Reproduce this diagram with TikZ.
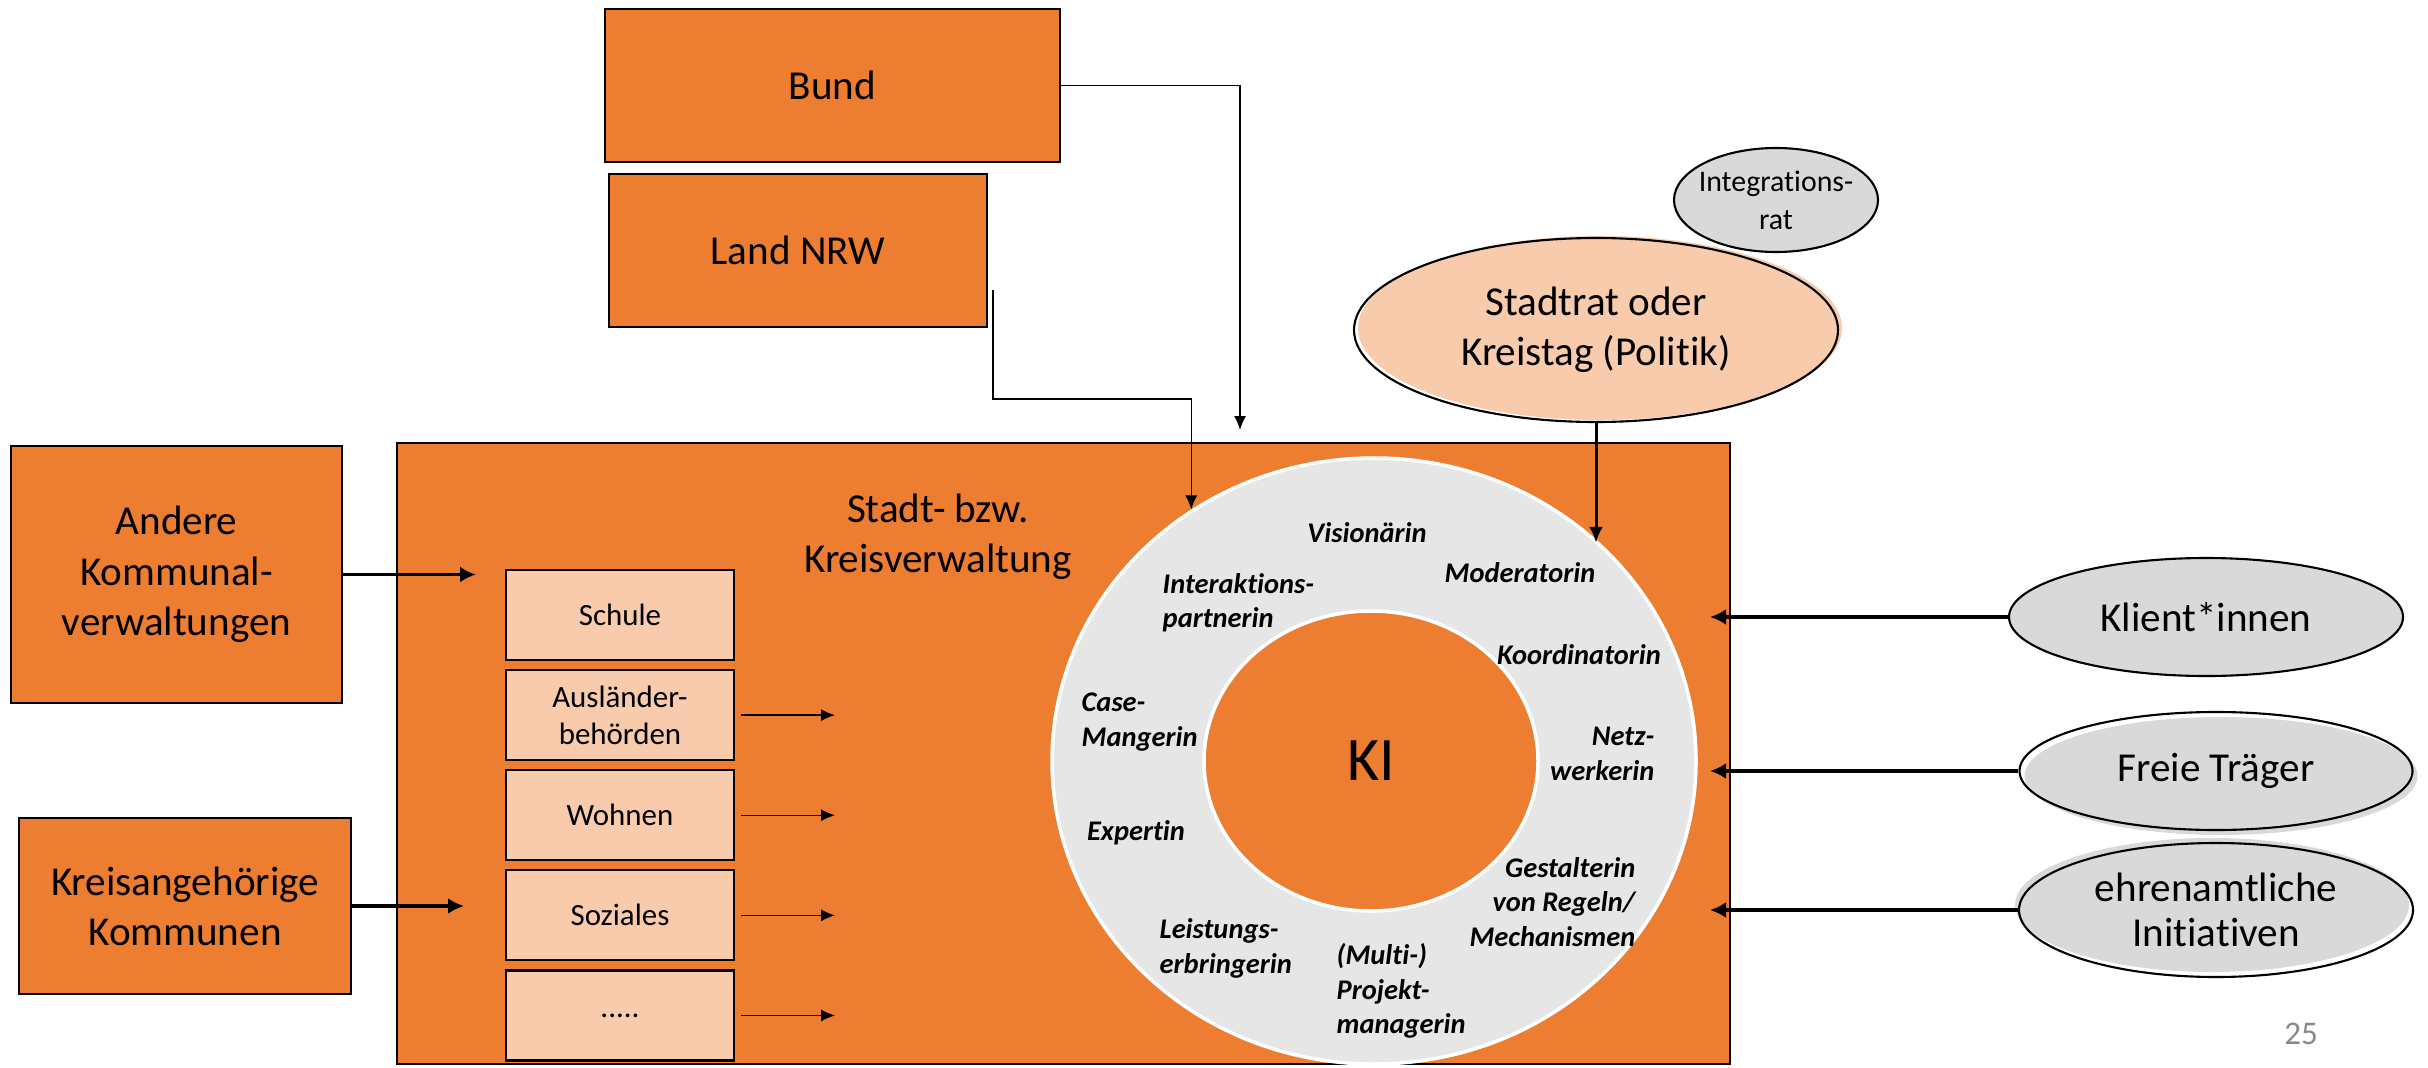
\documentclass[tikz,border=0pt]{standalone}
\usepackage{fontspec}
\setmainfont{Carlito}[Ligatures=NoCommon]
\usepackage{tikz}
\usetikzlibrary{arrows.meta,positioning,shapes.geometric}
\definecolor{kommorange}{RGB}{237,125,49}
\definecolor{kommlight}{RGB}{248,203,173}
\definecolor{ringgray}{RGB}{230,230,230}
\definecolor{actorgray}{RGB}{217,217,217}
\definecolor{pagegray}{RGB}{137,137,137}

\tikzset{
  orangebox/.style={draw=black, line width=0.6pt, fill=kommorange, align=center, font=\fontsize{11.7}{14.3}\selectfont},
  subbox/.style={draw=black, line width=0.6pt, fill=kommlight, minimum width=2.28cm, minimum height=0.9cm, align=center, font=\fontsize{8.8}{10.5}\selectfont},
  actor/.style={ellipse, draw=black, line width=0.6pt, fill=actorgray, inner sep=0pt, align=center, font=\fontsize{11.7}{14.3}\selectfont},
  shiftfill/.style 2 args={fill=none, preaction={fill=#1, transform canvas={shift={#2}}}},
  rolelabel/.style={inner sep=0pt, font=\fontsize{8.1}{9.8}\selectfont\bfseries\itshape},
  thinarrow/.style={-{Latex[length=1.4mm,width=1.2mm]}, line width=0.4pt},
  midarrow/.style={-{Latex[length=1.6mm,width=1.4mm]}, line width=0.85pt},
  thickarrow/.style={-{Latex[length=1.6mm,width=1.6mm]}, line width=1.1pt},
}

\begin{document}
\begin{tikzpicture}
    \useasboundingbox (0,0) rectangle (24.28,10.67);

    % Bund und Land
    \node[orangebox, minimum width=4.55cm, minimum height=1.53cm] (bund) at (8.325,9.815) {Bund};
    \node[orangebox, minimum width=3.78cm, minimum height=1.53cm] (land) at (7.98,8.165) {Land NRW};

    % Verwaltung
    \node[orangebox, minimum width=13.33cm, minimum height=6.21cm] (verwaltung) at (10.635,3.135) {};
    \node[align=center, font=\fontsize{11.7}{14.3}\selectfont] (vtitel) at (9.38,5.30) {Stadt- bzw.\\Kreisverwaltung};

    % Nachbarn links
    \node[orangebox, minimum width=3.31cm, minimum height=2.57cm] (andere) at (1.765,4.925) {Andere\\Kommunal-\\verwaltungen};
    \node[orangebox, minimum width=3.32cm, minimum height=1.76cm] (kreis) at (1.85,1.61) {Kreisangehörige\\Kommunen};

    % Fachbereiche
    \node[subbox] (schule) at (6.20,4.52) {Schule};
    \foreach \name/\txt [remember=\name as \prev (initially schule)] in {auslaender/{Ausländer-\\behörden}, wohnen/Wohnen, soziales/Soziales, weitere/{.....}}
        \node[subbox, below=0.08cm of \prev] (\name) {\txt};

    % Rollenring
    \node[ellipse, fill=ringgray, draw=white, line width=1pt, minimum width=6.44cm, minimum height=6.06cm] (ring) at (13.74,3.06) {};
    \node[ellipse, fill=kommorange, draw=white, line width=1pt, minimum width=3.34cm, minimum height=3.00cm, font=\fontsize{17.6}{20}\selectfont] (ki) at (13.71,3.06) {KI};

    \node[rolelabel] (vision) at (13.67,5.34) {Visionärin};
    \node[rolelabel] (moderat) at (15.20,4.94) {Moderatorin};
    \node[rolelabel, anchor=west, align=left] (interakt) at (11.62,4.64) {Interaktions-\\partnerin};
    \node[rolelabel] (koord) at (15.79,4.12) {Koordinatorin};
    \node[rolelabel, anchor=west, align=left] (casem) at (10.81,3.45) {Case-\\Mangerin};
    \node[rolelabel, anchor=east, align=right] (netzw) at (16.55,3.13) {Netz-\\werkerin};
    \node[rolelabel] (expert) at (11.36,2.34) {Expertin};
    \node[rolelabel, anchor=east, align=right] (gestalt) at (16.36,1.65) {Gestalterin\\von Regeln/\\Mechanismen};
    \node[rolelabel, anchor=west, align=left] (leist) at (11.59,1.185) {Leistungs-\\erbringerin};
    \node[rolelabel, anchor=west, align=left] (projekt) at (13.36,0.76) {(Multi-)\\Projekt-\\managerin};

    % Politik
    \node[actor, minimum width=2.04cm, minimum height=1.04cm] (integ) at (17.76,8.67) {};
    \node[align=center, font=\fontsize{8.5}{10.8}\selectfont] (integtext) at (integ) {Integrations-\\rat};
    \node[actor, shiftfill={kommlight}{(0.04,0.02)}, minimum width=4.84cm, minimum height=1.84cm] (stadtrat) at (15.96,7.37) {Stadtrat oder\\Kreistag (Politik)};

    % Akteure rechts
    \node[actor, minimum width=3.94cm, minimum height=1.18cm] (klient) at (22.06,4.50) {Klient*innen};
    \node[actor, shiftfill={actorgray}{(0.05,-0.05)}, minimum width=3.93cm, minimum height=1.18cm] (freie) at (22.16,2.96) {Freie Träger};
    \node[actor, shiftfill={actorgray}{(-0.04,0.05)}, minimum width=3.94cm, minimum height=1.34cm, font=\fontsize{11.7}{12.8}\selectfont] (ehren) at (22.16,1.57) {ehrenamtliche\\Initiativen};

    \node[text=pagegray, font=\fontsize{9.4}{11}\selectfont] (seite) at (23.01,0.33) {25};

    % Verbindungen
    \coordinate (bundin) at (12.40,6.37);
    \coordinate (landout) at (9.93,7.77);
    \coordinate (landknick) at (9.93,6.68);
    \coordinate (andin) at (4.76,0);
    \coordinate (kreisin) at (4.64,0);
    \coordinate (rechtsin) at (17.10,0);

    \draw[thinarrow] (bund.east) -| (bundin);
    \draw[thinarrow] (landout) -- (landknick) -| (ring.126);
    \draw[midarrow] (stadtrat.south) -- (stadtrat.south |- ring.44);
    \draw[thickarrow] (andere.east) -- (andere.east -| andin);
    \draw[thickarrow] (kreis.east) -- (kreis.east -| kreisin);

    \foreach \n in {auslaender,wohnen,soziales,weitere} {
        \coordinate (\n-ziel) at ([xshift=1.0cm]\n.east);
        \draw[thinarrow, shorten <=0.06cm] (\n.east) -- (\n-ziel);
    }

    \foreach \n in {klient,freie,ehren}
        \draw[thickarrow] (\n.west) -- (\n.west -| rechtsin);

\end{tikzpicture}
\end{document}
